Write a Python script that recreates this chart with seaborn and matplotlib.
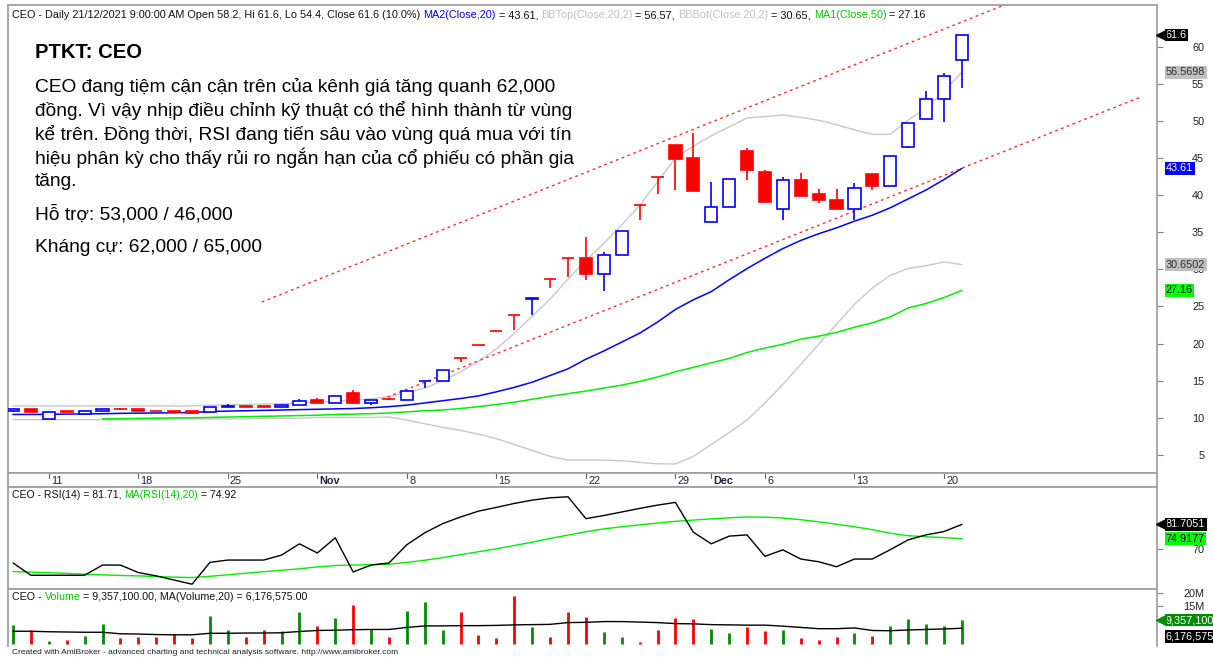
import numpy as np
import pandas as pd
import seaborn as sns
import matplotlib
matplotlib.use("Agg")
import matplotlib.pyplot as plt
from matplotlib.transforms import blended_transform_factory, offset_copy

# ---- data (CEO daily, 07/10/2021 - 21/12/2021) ----
dates = pd.bdate_range("2021-10-07", "2021-12-21")

opens = [10.85, 11.2, 9.85, 10.85, 10.5, 10.85, 11.2, 11.2, 10.9, 10.85,
         10.85, 10.8, 11.4, 11.55, 11.55, 11.5, 11.75, 12.35, 11.95, 13.3,
         12.05, 12.55, 12.45, 14.9, 14.95, 18.0, 19.8, 21.7, 23.8, 26.0,
         28.7, 31.5, 31.5, 29.4, 32.0, 38.7, 42.5, 46.7, 45.0, 36.45,
         38.4, 46.0, 43.1, 38.1, 42.0, 40.1, 39.3, 38.1, 42.9, 41.2,
         46.5, 50.2, 53.0, 58.2]
highs = [11.25, 11.2, 10.8, 10.9, 11.0, 11.2, 11.3, 11.2, 10.9, 10.9,
         10.85, 11.4, 11.85, 11.6, 11.6, 11.75, 12.5, 12.6, 12.95, 13.75,
         12.4, 12.6, 13.7, 14.95, 16.4, 18.0, 19.8, 21.7, 23.8, 26.1,
         28.7, 31.5, 34.4, 32.4, 35.2, 38.7, 42.5, 46.7, 48.4, 41.8,
         42.2, 46.3, 43.4, 42.4, 43.0, 40.9, 40.8, 41.7, 42.9, 45.3,
         49.7, 54.1, 56.5, 61.6]
lows = [10.8, 10.8, 9.8, 10.75, 10.5, 10.85, 11.1, 10.9, 10.85, 10.7,
        10.65, 10.8, 11.4, 11.45, 11.45, 11.5, 11.7, 11.95, 11.95, 11.9,
        11.7, 12.45, 12.45, 14.0, 14.95, 17.5, 19.8, 21.5, 21.8, 23.9,
        27.5, 29.0, 28.6, 27.1, 32.0, 36.7, 40.2, 40.7, 40.5, 36.4,
        38.4, 42.0, 39.1, 36.7, 39.9, 38.9, 38.1, 36.7, 40.7, 41.2,
        46.4, 50.2, 49.8, 54.4]
closes = [11.2, 10.8, 10.8, 10.8, 10.9, 11.2, 11.15, 10.9, 10.85, 10.75,
          10.65, 11.4, 11.6, 11.5, 11.5, 11.75, 12.3, 11.95, 12.95, 11.95,
          12.4, 12.5, 13.65, 14.95, 16.4, 18.0, 19.8, 21.7, 23.8, 26.1,
          28.7, 31.5, 29.4, 32.0, 35.2, 38.7, 42.5, 44.9, 40.5, 38.4,
          42.2, 43.4, 39.1, 42.0, 39.9, 39.3, 38.1, 41.0, 41.2, 45.3,
          49.7, 53.0, 56.0, 61.6]

ma20 = [10.45, 10.45, 10.47, 10.5, 10.52, 10.55, 10.6, 10.62, 10.65, 10.68,
        10.7, 10.85, 10.9, 10.95, 11.0, 11.05, 11.1, 11.15, 11.2, 11.25,
        11.35, 11.5, 11.7, 12.0, 12.3, 12.6, 12.95, 13.5, 14.1, 14.8,
        15.7, 16.6, 17.9, 19.0, 20.2, 21.4, 22.9, 24.6, 25.9, 27.0,
        28.6, 30.1, 31.5, 32.8, 33.9, 34.8, 35.6, 36.5, 37.3, 38.3,
        39.5, 40.7, 42.1, 43.61]
ma50 = [np.nan, np.nan, np.nan, np.nan, np.nan, 9.85, 9.88, 9.92, 9.95, 9.98,
        10.0, 10.05, 10.1, 10.15, 10.2, 10.25, 10.3, 10.35, 10.45, 10.5,
        10.55, 10.65, 10.8, 10.95, 11.05, 11.25, 11.5, 11.8, 12.1, 12.5,
        12.9, 13.25, 13.6, 14.0, 14.4, 14.9, 15.5, 16.2, 16.8, 17.4,
        18.0, 18.8, 19.4, 19.9, 20.6, 21.0, 21.5, 22.2, 22.8, 23.6,
        24.8, 25.4, 26.2, 27.16]
bb_top = [11.6, 11.6, 11.6, 11.6, 11.6, 11.6, 11.6, 11.6, 11.6, 11.6,
          11.6, 11.7, 11.75, 11.8, 11.85, 11.9, 12.0, 12.1, 12.25, 12.4,
          12.55, 12.85, 13.4, 14.0, 15.0, 16.2, 17.6, 19.3, 21.4, 23.7,
          26.0, 28.7, 31.2, 33.5, 36.0, 38.6, 41.8, 45.0, 46.6, 48.0,
          49.2, 50.4, 50.6, 50.8, 50.5, 50.1, 49.5, 48.8, 48.2, 48.2,
          50.1, 51.8, 54.0, 56.57]
bb_bot = [9.75, 9.75, 9.75, 9.75, 9.75, 9.75, 9.75, 9.75, 9.75, 9.85,
          9.85, 9.85, 9.85, 9.85, 9.95, 9.95, 9.95, 10.05, 10.05, 10.05,
          10.05, 10.1, 9.7, 9.2, 8.7, 8.3, 7.8, 7.2, 6.4, 5.6,
          4.8, 4.3, 4.3, 4.3, 4.2, 4.0, 3.8, 3.77, 4.8, 6.4,
          8.0, 9.7, 12.0, 14.5, 17.2, 19.9, 22.6, 25.3, 27.5, 29.2,
          30.1, 30.5, 31.0, 30.65]

# trend channel drawn by hand on the chart: (bar, price) end points
channel_top = [(13.9, 25.6), (63.0, 73.0)]
channel_bot = [(19.94, 11.86), (62.96, 53.2)]

rsi = [63.2, 57.3, 57.3, 57.3, 57.3, 62.2, 62.2, 58.6, 57.0, 55.0,
       53.0, 63.5, 64.6, 64.6, 64.6, 67.0, 72.4, 68.0, 75.3, 58.9,
       62.2, 63.2, 72.0, 77.7, 82.1, 85.3, 88.1, 89.9, 91.8, 93.4,
       94.5, 95.0, 84.5, 86.0, 87.7, 89.4, 91.0, 92.3, 78.0, 72.4,
       76.1, 76.7, 66.4, 69.5, 65.1, 63.8, 61.4, 65.1, 65.1, 69.6,
       74.3, 76.7, 78.3, 81.71]
rsi_ma = [59.1, 58.8, 58.5, 58.2, 57.8, 57.5, 57.2, 57.0, 56.7, 56.4,
          56.2, 56.8, 57.5, 58.3, 59.0, 59.7, 60.4, 61.3, 62.0, 62.2,
          62.4, 62.6, 63.5, 64.5, 65.8, 67.2, 68.6, 70.0, 71.6, 73.2,
          75.0, 76.6, 78.2, 79.6, 80.6, 81.5, 82.4, 83.2, 83.8, 84.4,
          84.9, 85.3, 85.2, 84.8, 84.0, 83.0, 81.8, 80.6, 79.2, 77.5,
          76.3, 75.8, 75.4, 74.92]

# volume in millions of shares
volume = [7.3, 5.6, 1.2, 1.6, 3.3, 8.0, 2.3, 2.9, 2.9, 4.0,
          2.3, 10.9, 5.3, 2.6, 5.6, 4.9, 12.4, 6.9, 10.1, 15.5,
          6.0, 2.9, 12.8, 16.5, 5.6, 12.5, 3.7, 2.3, 18.9, 6.7,
          2.6, 12.5, 10.7, 4.6, 2.6, 0.9, 5.3, 10.1, 9.7, 6.0,
          4.2, 6.7, 5.0, 5.3, 2.2, 1.6, 2.6, 4.2, 3.0, 6.9,
          9.7, 7.8, 6.9, 9.357]
vol_ma = [5.0, 5.0, 4.8, 4.7, 4.6, 4.6, 4.0, 3.9, 3.7, 3.6,
          3.6, 4.2, 4.2, 4.3, 4.3, 4.4, 4.9, 5.3, 5.4, 5.6,
          5.7, 5.7, 6.5, 7.1, 7.1, 7.2, 7.2, 7.3, 7.5, 7.6,
          7.7, 8.4, 8.5, 8.8, 8.8, 8.6, 8.4, 8.0, 7.9, 7.6,
          7.5, 7.4, 7.4, 7.0, 6.5, 6.0, 6.0, 6.3, 5.3, 5.2,
          5.5, 5.7, 5.9, 6.177]

note_title = "PTKT: CEO"
note_lines = [
    "CEO đang tiệm cận cận trên của kênh giá tăng quanh 62,000",
    "đồng. Vì vậy nhịp điều chỉnh kỹ thuật có thể hình thành từ vùng",
    "kể trên. Đồng thời, RSI đang tiến sâu vào vùng quá mua với tín",
    "hiệu phân kỳ cho thấy rủi ro ngắn hạn của cổ phiếu có phần gia",
    "tăng.",
]
support = "Hỗ trợ: 53,000 / 46,000"
resist = "Kháng cự: 62,000 / 65,000"

# ---- figure ----
W, H = 1213, 657
sns.set_theme(style="white")
plt.rcParams["font.family"] = ["Liberation Sans", "DejaVu Sans"]

df = pd.DataFrame({"bar": np.arange(len(dates)), "open": opens, "high": highs,
                   "low": lows, "close": closes, "ma20": ma20, "ma50": ma50,
                   "bb_top": bb_top, "bb_bot": bb_bot, "rsi": rsi,
                   "rsi_ma": rsi_ma, "volume": volume, "vol_ma": vol_ma})
up = df["close"] > df["open"]

fig = plt.figure(figsize=(W / 100, H / 100), dpi=100)
renderer = fig.canvas.get_renderer()


def add_ax(l, t, r, b):
    return fig.add_axes([l / W, 1 - b / H, (r - l) / W, (b - t) / H])


ax_p = add_ax(8, 5, 1157, 473)
ax_d = add_ax(8, 473, 1157, 487)
ax_r = add_ax(8, 487, 1157, 589)
ax_v = add_ax(8, 589, 1157, 646)

frame = "#a0a0a0"
for ax in (ax_p, ax_d, ax_r, ax_v):
    ax.set_xlim(-0.28, 63.9)
    ax.set_xticks([])
    ax.set_facecolor("white")
    for s in ax.spines.values():
        s.set_color(frame)
        s.set_linewidth(1.3)
ax_v.spines["bottom"].set_visible(False)


def right_axis(ax, ticks, labels):
    ax.set_yticks(ticks)
    ax.set_yticklabels(labels)
    ax.tick_params(axis="y", left=False, labelleft=False, right=True,
                   labelright=True, length=4, width=0.8, color="#808080",
                   direction="out", pad=30, labelsize=7.8, labelcolor="#202020")
    for lab in ax.get_yticklabels():
        lab.set_horizontalalignment("right")
    ax.set_xlabel("")
    ax.set_ylabel("")


def tag(ax, y, text, fc, tc, arrow=False, dy=0):
    trans = blended_transform_factory(ax.transAxes, ax.transData)
    ax.annotate(text, xy=(1.0, y), xycoords=trans, xytext=(9, dy),
                textcoords="offset pixels", ha="left", va="center",
                fontsize=7.8, color=tc, annotation_clip=False, zorder=10,
                bbox=dict(boxstyle="square,pad=0.12", fc=fc, ec="none"))
    if arrow:
        ax.plot([1.0], [y], marker="<", ms=7, color=fc, clip_on=False,
                transform=offset_copy(trans, fig=fig, x=4, y=dy, units="dots"),
                zorder=10)


def text_width(s, size):
    # width of s including any trailing space, measured against a bar glyph
    a = fig.text(0, 0, s + "|", fontsize=size)
    b = fig.text(0, 0, "|", fontsize=size)
    w = a.get_window_extent(renderer).width - b.get_window_extent(renderer).width
    a.remove()
    b.remove()
    return w


def color_text(x, y, parts, size):
    prefix = ""
    for s, c in parts:
        fig.text((x + text_width(prefix, size)) / W, 1 - y / H, s, color=c,
                 fontsize=size, ha="left", va="center")
        prefix += s


# ---- price pane ----
sns.lineplot(data=df, x="bar", y="bb_top", color="#c8c8c8", lw=1, ax=ax_p)
sns.lineplot(data=df, x="bar", y="bb_bot", color="#c8c8c8", lw=1, ax=ax_p)
sns.lineplot(data=df, x="bar", y="ma50", color="#00ee00", lw=1.1, ax=ax_p)
sns.lineplot(data=df, x="bar", y="ma20", color="#0000ff", lw=1.1, ax=ax_p)
for line in (channel_top, channel_bot):
    xs, ys = zip(*line)
    ax_p.plot(xs, ys, color="#ff3030", lw=1, ls=(0, (2, 2.5)))

cols = np.where(up, "#0000ff", "#ff0000")
ax_p.vlines(df["bar"], df["low"], df["high"], colors=cols, lw=1.2, zorder=3)
body_h = (df["close"] - df["open"]).abs()
body_b = df[["close", "open"]].min(axis=1)
ax_p.bar(df["bar"], body_h, bottom=body_b, width=0.68,
         color=np.where(up, "white", "#ff0000"), edgecolor=cols, lw=1.2,
         zorder=4)
ax_p.set_ylim(2.56, 65.63)
right_axis(ax_p, list(range(5, 61, 5)), [str(v) for v in range(5, 61, 5)])
tag(ax_p, closes[-1], "61.6", "black", "white", arrow=True)
tag(ax_p, bb_top[-1], "56.5698", "#c0c0c0", "#303030")
tag(ax_p, ma20[-1], "43.61", "#0000ff", "white")
tag(ax_p, bb_bot[-1], "30.6502", "#c0c0c0", "#303030")
tag(ax_p, ma50[-1], "27.16", "#00ff00", "black")

# ---- date strip ----
ax_d.set_ylim(0, 1)
ax_d.set_yticks([])
prev = None
for i, d in enumerate(dates):
    if prev is not None and d.month != prev.month:
        lab, bold = d.strftime("%b"), True
    elif d.weekday() == 0:
        lab, bold = str(d.day), False
    else:
        lab = None
    prev = d
    if lab is None:
        continue
    ax_d.plot([i, i], [1, 0.62], color="#606060", lw=0.8)
    ax_d.text(i + 0.12, 0.4, lab, ha="left", va="center", fontsize=7.8,
              color="#202040", fontweight="bold" if bold else "normal")

# ---- RSI pane ----
sns.lineplot(data=df, x="bar", y="rsi_ma", color="#00ee00", lw=1, ax=ax_r)
sns.lineplot(data=df, x="bar", y="rsi", color="black", lw=1, ax=ax_r)
ax_r.set_ylim(50.7, 99.7)
right_axis(ax_r, [70], ["70"])
tag(ax_r, 81.7051, "81.7051", "black", "white", arrow=True)
tag(ax_r, 74.9177, "74.9177", "#00ff00", "black")

# ---- volume pane ----
vcols = np.where(up, "#008c00", "#ff0000")
ax_v.vlines(df["bar"], 0, df["volume"], colors=vcols, lw=2)
sns.lineplot(data=df, x="bar", y="vol_ma", color="black", lw=1, ax=ax_v)
ax_v.set_ylim(-0.8, 21.6)
right_axis(ax_v, [15, 20], ["15M", "20M"])
tag(ax_v, volume[-1], "9,357,100", "#008c00", "white", arrow=True)
tag(ax_v, vol_ma[-1], "6,176,575", "black", "white", dy=-8)

# ---- titles ----
color_text(12, 15, [
    ("CEO - Daily 21/12/2021 9:00:00 AM Open 58.2, Hi 61.6, Lo 54.4, "
     "Close 61.6 (10.0%) ", "#101010"),
    ("MA2(Close,20)", "#0000ff"), (" = 43.61, ", "#101010"),
    ("BBTop(Close,20,2)", "#c0c0c0"), (" = 56.57, ", "#101010"),
    ("BBBot(Close,20,2)", "#c0c0c0"), (" = 30.65, ", "#101010"),
    ("MA1(Close,50)", "#00cc00"), (" = 27.16", "#101010")], 7.8)
color_text(12, 495, [("CEO - RSI(14) = 81.71, ", "#101010"),
                     ("MA(RSI(14),20)", "#00cc00"),
                     (" = 74.92", "#101010")], 7.6)
color_text(12, 597, [("CEO - ", "#101010"), ("Volume", "#00cc00"),
                     (" = 9,357,100.00, MA(Volume,20) = 6,176,575.00",
                      "#101010")], 7.7)
fig.text(12 / W, 1 - 652 / H,
         "Created with AmiBroker - advanced charting and technical analysis "
         "software. http://www.amibroker.com", fontsize=6.0, color="#202020",
         ha="left", va="center")

# ---- analyst note ----
fig.text(35 / W, 1 - 52 / H, note_title, fontsize=14.6, fontweight="bold",
         color="black", ha="left", va="center")
for k, line in enumerate(note_lines):
    fig.text(35 / W, 1 - (87 + 23.5 * k) / H, line, fontsize=13.8,
             color="black", ha="left", va="center")
fig.text(35 / W, 1 - 214 / H, support, fontsize=13.8, color="black",
         ha="left", va="center")
fig.text(35 / W, 1 - 248 / H, resist, fontsize=13.8, color="black",
         ha="left", va="center")

fig.savefig("out.png", dpi=100)
